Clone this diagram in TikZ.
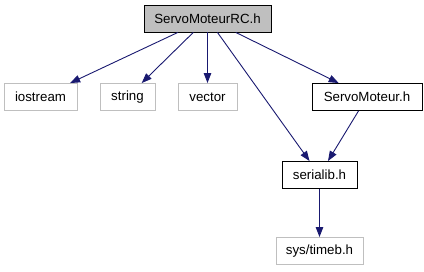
\documentclass[tikz,border=0pt]{standalone}
\usepackage{fontspec}
\setmainfont{Liberation Sans}
\usetikzlibrary{arrows.meta,positioning}
\definecolor{edgeblue}{HTML}{191970}
\definecolor{extgray}{HTML}{BFBFBF}

\begin{document}
\begin{tikzpicture}[x=1pt,y=-1pt,
  file/.style={draw,line width=0.9pt,minimum height=27pt,inner sep=0pt,
               font=\fontsize{13.3}{16}\selectfont},
  ext/.style={file,draw=extgray},
  root/.style={file,fill=extgray},
  arr/.style={edgeblue,line width=0.9pt,-{Triangle[length=10pt,width=7.5pt]}}]
  \useasboundingbox (0,0) rectangle (424,272);
  \node[root,minimum width=127pt] (rc) at (207.5,18.5) {ServoMoteurRC.h};
  \node[ext,minimum width=73pt] (ios) at (40.5,97) {iostream};
  \node[ext,minimum width=55pt] (str) at (127.5,97) {string};
  \node[ext,minimum width=59pt] (vec) at (207.5,97) {vector};
  \node[file,minimum width=110pt] (sm) at (367,97) {ServoMoteur.h};
  \node[file,minimum width=75pt] (ser) at (319.5,175) {serialib.h};
  \node[ext,minimum width=87pt] (tb) at (319.5,251) {sys/timeb.h};
  \draw[arr] (rc) -- (ios);
  \draw[arr] (rc) -- (str);
  \draw[arr] (rc) -- (vec);
  \draw[arr] (rc) -- (ser);
  \draw[arr] (rc) -- (sm);
  \draw[arr] (sm) -- (ser);
  \draw[arr] (ser) -- (tb);
\end{tikzpicture}
\end{document}
